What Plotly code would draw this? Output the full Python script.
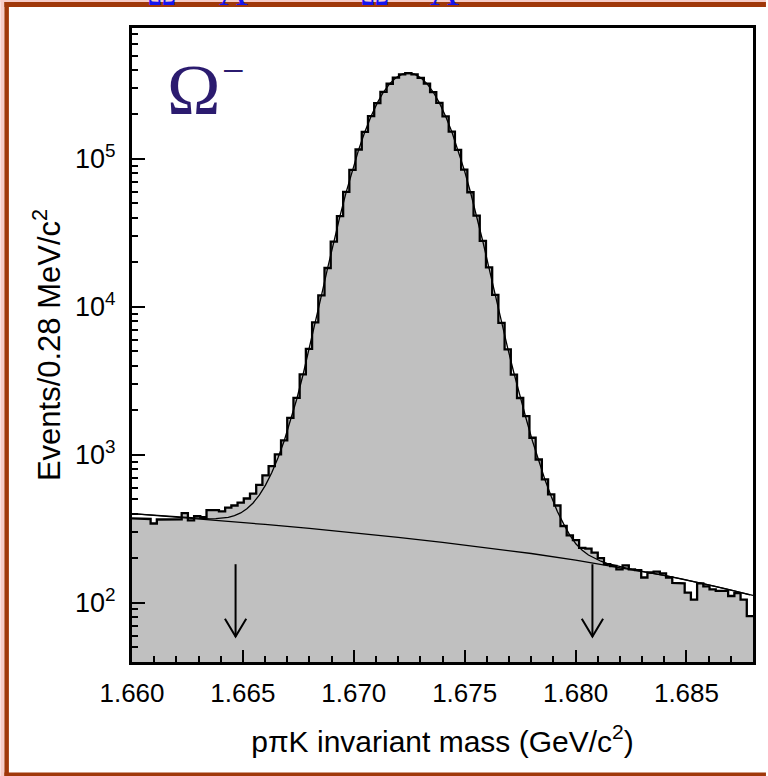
import numpy as np
import plotly.graph_objects as go

# ---------------- data ----------------
BIN_LO = 1.660          # GeV/c^2, first bin lower edge
BIN_W = 0.00028         # 0.28 MeV bins

counts = [
    372, 370, 368, 343, 365, 366, 364, 366, 403, 360,
    385, 378, 423, 423, 414, 439, 454, 474, 506, 546,
    625, 725, 838, 1005, 1250, 1778, 2427, 3500, 5200, 7850,
    11950, 18300, 27600, 41100, 59900, 84200, 115800, 152200, 194900, 238600,
    283800, 322100, 354600, 373200, 379800, 373200, 353500, 323300, 282700, 239600,
    193900, 152900, 115100, 84700, 59500, 41400, 27900, 18500, 12050, 7800,
    5150, 3480, 2420, 1824, 1303, 929, 681, 539, 454, 330,
    285, 265, 235, 232, 218, 200, 182, 177, 168, 179,
    168, 166, 148, 160, 162, 158, 148, 136, 135, 117,
    105, 135, 129, 123, 120, 120, 111, 116, 105, 81,
]

fit_total = [
    398.6, 395.7, 392.8, 389.9, 387.0, 384.1, 381.3, 378.4, 375.5, 373.6,
    371.5, 369.8, 369.0, 369.5, 372.0, 377.6, 387.6, 404.4, 431.3, 472.3,
    533, 623, 755, 950, 1239, 1678, 2356, 3421, 5108, 7765,
    11912, 18259, 27706, 41203, 59800, 84398, 115495, 152592, 194489, 239086,
    283183, 322780, 354077, 373675, 379400, 373672, 354066, 322763, 283160, 239057,
    194454, 152551, 115449, 84346, 59743, 41140, 27637, 18184, 11831, 7678,
    5255, 3571, 2455, 1731, 1233, 903, 678, 524, 413, 341,
    286, 249, 226, 210, 199, 190.7, 184.5, 179.5, 175.4, 171.7,
    167.8, 165.0, 162.1, 159.2, 156.3, 153.4, 150.5, 147.6, 144.8, 141.9,
    139.0, 136.1, 133.2, 130.3, 127.5, 124.6, 121.7, 118.8, 115.9, 113.0,
]

bg_mass = [1.660, 1.662, 1.664, 1.666, 1.668, 1.670, 1.672, 1.674,
           1.676, 1.678, 1.680, 1.682, 1.684, 1.686, 1.688]
bg_fit = [400, 379, 359, 338, 318, 297, 276, 256,
          235, 215, 194, 173, 153, 132, 112]

window_edges = [1.66467, 1.68076]   # signal window (arrows)
arrow_top = 182
arrow_tip = 59
arrow_wing_y = 78
arrow_wing_dx = 0.00048

x_ticks = [1.660, 1.665, 1.670, 1.675, 1.680, 1.685]
y_ticks = [1e2, 1e3, 1e4, 1e5]
y_ticktext = ["10<sup>2</sup>", "10<sup>3</sup>", "10<sup>4</sup>", "10<sup>5</sup>"]

# ---------------- geometry helpers ----------------
W, H = 768, 776
ML, MR, MT, MB = 132, 13, 28, 114
PW, PH = W - ML - MR, H - MT - MB


def xp(px):
    return (px - ML) / PW


def yp(py):
    return (H - MB - py) / PH


edges = BIN_LO + BIN_W * np.arange(len(counts) + 1)
centers = edges[:-1] + BIN_W / 2
stair_x = list(np.repeat(edges, 2)[1:-1])
stair_y = list(np.repeat(counts, 2))

fig = go.Figure()

# gray filled histogram
fig.add_trace(go.Scatter(
    x=[edges[0]] + stair_x + [edges[-1]],
    y=[1] + stair_y + [1],
    fill="toself", fillcolor="#c0c0c0", mode="lines",
    line=dict(width=0, color="#c0c0c0"), hoverinfo="skip"))

# background fit
fig.add_trace(go.Scatter(x=bg_mass, y=bg_fit, mode="lines",
                         line=dict(color="black", width=1.3)))
# total fit
fig.add_trace(go.Scatter(x=list(centers), y=fit_total, mode="lines",
                         line=dict(color="black", width=1.3)))
# histogram outline
fig.add_trace(go.Scatter(x=stair_x, y=stair_y, mode="lines",
                         line=dict(color="black", width=2.3)))

# arrows
ax, ay = [], []
for xe in window_edges:
    ax += [xe, xe, None, xe - arrow_wing_dx, xe, xe + arrow_wing_dx, None]
    ay += [arrow_top, arrow_tip, None, arrow_wing_y, arrow_tip, arrow_wing_y, None]
fig.add_trace(go.Scatter(x=ax, y=ay, mode="lines",
                         line=dict(color="black", width=2)))

minor_vals = [m * 10 ** e for e in range(1, 6) for m in range(2, 10)]

font_main = "Liberation Sans, Arial, Helvetica, sans-serif"
serif = "Liberation Serif, Times New Roman, serif"

fig.update_layout(
    width=W, height=H,
    margin=dict(l=ML, r=MR, t=MT, b=MB),
    paper_bgcolor="white", plot_bgcolor="white",
    showlegend=False,
    font=dict(family=font_main, color="black", size=26),
    xaxis=dict(
        range=[1.660, 1.688], tickvals=x_ticks,
        ticktext=[f"{v:.3f}" for v in x_ticks],
        ticks="inside", ticklen=12, tickwidth=2, tickcolor="black",
        minor=dict(ticks="inside", ticklen=6, tickwidth=2, tickcolor="black",
                   dtick=0.001, tick0=1.660, showgrid=False),
        showline=True, mirror=True, linewidth=3, linecolor="black",
        showgrid=False, zeroline=False,
        tickfont=dict(size=26, family=font_main), ticklabelstandoff=6,
        title=dict(text="pπK invariant mass (GeV/c<sup>2</sup>)",
                   font=dict(size=30, family=font_main), standoff=24),
    ),
    yaxis=dict(
        type="log", range=[1.599, 5.885],
        tickvals=y_ticks, ticktext=y_ticktext,
        ticks="inside", ticklen=13, tickwidth=2, tickcolor="black",
        minor=dict(ticks="inside", ticklen=6, tickwidth=2, tickcolor="black",
                   tickvals=minor_vals, showgrid=False),
        showline=True, mirror=True, linewidth=3, linecolor="black",
        showgrid=False, zeroline=False,
        tickfont=dict(size=27, family=font_main), ticklabelstandoff=8,
        title=dict(text="Events/0.28 MeV/c<sup>2</sup>",
                   font=dict(size=31, family=font_main), standoff=6),
    ),
)

# Omega label
fig.add_annotation(xref="paper", yref="paper", x=xp(165), y=yp(90),
                   xanchor="left", yanchor="middle", showarrow=False,
                   text="Ω", font=dict(family=serif, size=72, color="#2b1b6f"))
fig.add_annotation(xref="paper", yref="paper", x=xp(234), y=yp(70),
                   xanchor="center", yanchor="middle", showarrow=False,
                   text="−", font=dict(family=serif, size=40, color="#2b1b6f"))

# cut-off slide title fragments at the very top
for txt, px_c in [("Ω", 162), ("Λ", 234), ("Ω", 376), ("Λ", 446)]:
    fig.add_annotation(xref="paper", yref="paper", x=xp(px_c), y=yp(-8),
                       xanchor="center", yanchor="middle", showarrow=False,
                       text=txt, font=dict(family=serif, size=40, color="#1414f0"))

# slide frame decorations
brown = "rgb(160,56,10)"
pink = "rgb(246,204,200)"
shapes = [
    dict(type="rect", xref="paper", yref="paper", x0=xp(0), x1=xp(4), y0=yp(776), y1=yp(0),
         fillcolor=pink, line=dict(width=0), layer="below"),
    dict(type="rect", xref="paper", yref="paper", x0=xp(0), x1=xp(768), y0=yp(2), y1=yp(0),
         fillcolor=pink, line=dict(width=0), layer="below"),
    dict(type="rect", xref="paper", yref="paper", x0=xp(4), x1=xp(8.5), y0=yp(776), y1=yp(2),
         fillcolor=brown, line=dict(width=0), layer="above"),
    dict(type="rect", xref="paper", yref="paper", x0=xp(4), x1=xp(768), y0=yp(7), y1=yp(2),
         fillcolor=brown, line=dict(width=0), layer="above"),
    dict(type="rect", xref="paper", yref="paper", x0=xp(4), x1=xp(768), y0=yp(776), y1=yp(772.5),
         fillcolor=brown, line=dict(width=0), layer="above"),
]
fig.update_layout(shapes=shapes)

fig.write_html("out.html")
